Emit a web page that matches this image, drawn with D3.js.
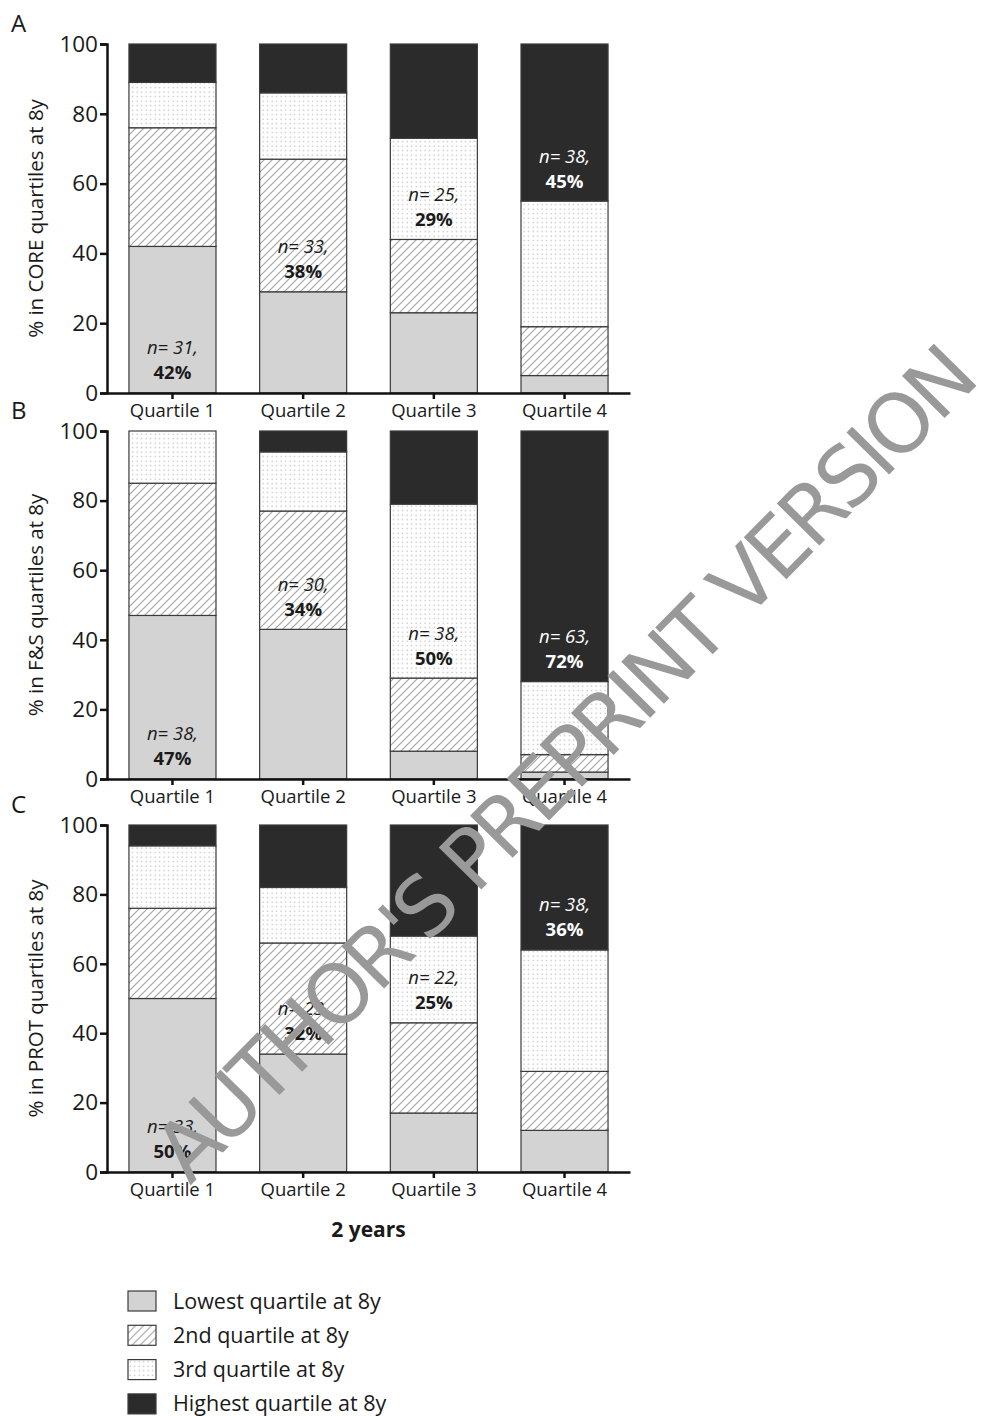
<!DOCTYPE html>
<html>
<head>
<meta charset="utf-8">
<script src="https://cdn.jsdelivr.net/npm/d3@7"></script>
<style>
  body { margin: 0; background: #fff; }
  text { font-family: "Open Sans", "Noto Sans", sans-serif; fill: #1a1a1a; }
  .domain, .tick line { stroke: #111; }
</style>
</head>
<body>
<div class="chart"></div>
<script>
// Stacked bars: quartile at 2 years vs quartile at 8 years

var svgWidth = 999;
var svgHeight = 1416;

var categories = ["Quartile 1", "Quartile 2", "Quartile 3", "Quartile 4"];
var seriesNames = ["Lowest quartile at 8y", "2nd quartile at 8y", "3rd quartile at 8y", "Highest quartile at 8y"];
var yTicks = [0, 20, 40, 60, 80, 100];

// A: CORE, % in each 8y quartile (lowest -> highest)
var coreLowest = [42, 29, 23, 5];
var core2nd = [34, 38, 21, 14];
var core3rd = [13, 19, 29, 36];
var coreHighest = [11, 14, 27, 45];
var coreN = [31, 33, 25, 38];

// B: F&S
var fsLowest = [47, 43, 8, 2];
var fs2nd = [38, 34, 21, 5];
var fs3rd = [15, 17, 50, 21];
var fsHighest = [0, 6, 21, 72];
var fsN = [38, 30, 38, 63];

// C: PROT
var protLowest = [50, 34, 17, 12];
var prot2nd = [26, 32, 26, 17];
var prot3rd = [18, 16, 25, 35];
var protHighest = [6, 18, 32, 36];
var protN = [33, 23, 22, 38];

var panels = [
  { letter: "A", title: "% in CORE quartiles at 8y", series: [coreLowest, core2nd, core3rd, coreHighest], n: coreN, top: 44, bottom: 393 },
  { letter: "B", title: "% in F&S quartiles at 8y", series: [fsLowest, fs2nd, fs3rd, fsHighest], n: fsN, top: 431, bottom: 779 },
  { letter: "C", title: "% in PROT quartiles at 8y", series: [protLowest, prot2nd, prot3rd, protHighest], n: protN, top: 825, bottom: 1172 }
];

var axisLeftX = 107;
var axisRightX = 630;

var svg = d3.select(".chart")
  .append("svg")
  .attr("width", svgWidth)
  .attr("height", svgHeight);

// fill patterns
var defs = svg.append("defs");

var hatch = defs.append("pattern")
  .attr("id", "hatch")
  .attr("patternUnits", "userSpaceOnUse")
  .attr("width", 8)
  .attr("height", 8);
hatch.append("rect").attr("width", 8).attr("height", 8).attr("fill", "#fff");
hatch.append("path")
  .attr("d", "M0,8 L8,0 M-2,2 L2,-2 M6,10 L10,6")
  .attr("stroke", "#a4a4a4")
  .attr("stroke-width", 1.15);

var dots = defs.append("pattern")
  .attr("id", "dots")
  .attr("patternUnits", "userSpaceOnUse")
  .attr("width", 4.5)
  .attr("height", 4.5);
dots.append("rect").attr("width", 4.5).attr("height", 4.5).attr("fill", "#fff");
dots.append("rect").attr("x", 1.5).attr("y", 1.5).attr("width", 1.3).attr("height", 1.3).attr("fill", "#bdbdbd");

var fills = ["#d3d3d3", "url(#hatch)", "url(#dots)", "#2b2b2b"];

var xScale = d3.scaleBand()
  .domain(categories)
  .range([axisLeftX, axisRightX])
  .paddingInner(0.334)
  .paddingOuter(0.168);

function drawPanel(panel) {

  var yScale = d3.scaleLinear()
    .domain([0, 100])
    .range([panel.bottom, panel.top]);

  var g = svg.append("g");

  // build rows for d3.stack
  var rows = categories.map(function (c, i) {
    var row = { cat: c };
    panel.series.forEach(function (s, k) { row["s" + k] = s[i]; });
    return row;
  });

  var stack = d3.stack().keys(["s0", "s1", "s2", "s3"]);
  var layers = stack(rows);

  g.selectAll(".layer")
    .data(layers)
    .enter()
    .append("g")
    .attr("fill", (d, k) => fills[k])
    .selectAll("rect")
    .data(d => d.filter(p => p[1] - p[0] > 0))
    .enter()
    .append("rect")
    .attr("x", d => xScale(d.data.cat))
    .attr("y", d => yScale(d[1]))
    .attr("width", xScale.bandwidth())
    .attr("height", d => yScale(d[0]) - yScale(d[1]))
    .attr("stroke", "#3a3a3a")
    .attr("stroke-width", 1.2);

  // n / % labels in the matching quartile segment
  categories.forEach(function (c, i) {
    var seg = layers[i][i];
    var cx = xScale(c) + xScale.bandwidth() / 2;
    var base = yScale(seg[0]);
    var col = i === 3 ? "#fff" : "#1a1a1a";
    g.append("text")
      .attr("x", cx)
      .attr("y", base - 45)
      .attr("dy", "0.35em")
      .attr("text-anchor", "middle")
      .style("font-style", "italic")
      .style("font-size", "18.5px")
      .style("fill", col)
      .text("n= " + panel.n[i] + ",");
    g.append("text")
      .attr("x", cx)
      .attr("y", base - 20)
      .attr("dy", "0.35em")
      .attr("text-anchor", "middle")
      .style("font-weight", "bold")
      .style("font-size", "18.5px")
      .style("fill", col)
      .text(panel.series[i][i] + "%");
  });

  // axes
  var leftAxis = d3.axisLeft(yScale)
    .tickValues(yTicks)
    .tickSize(7)
    .tickPadding(2);

  var yAxis = g.append("g")
    .attr("transform", `translate(${axisLeftX}, 0)`)
    .call(leftAxis);
  yAxis.selectAll("text").style("font-size", "22.5px");
  yAxis.select(".domain").attr("stroke-width", 2.5);
  yAxis.selectAll(".tick line").attr("stroke-width", 2.5);

  var bottomAxis = d3.axisBottom(xScale)
    .tickSize(6)
    .tickSizeOuter(0)
    .tickPadding(5);

  var xAxis = g.append("g")
    .attr("transform", `translate(0, ${panel.bottom})`)
    .call(bottomAxis);
  xAxis.selectAll("text").style("font-size", "18.5px");
  xAxis.select(".domain").attr("stroke-width", 2.5);
  xAxis.selectAll(".tick line").attr("stroke-width", 2.5);

  // y title
  g.append("text")
    .attr("transform", `translate(43, ${(panel.top + panel.bottom) / 2}) rotate(-90)`)
    .attr("text-anchor", "middle")
    .style("font-size", "20.5px")
    .text(panel.title);

  // panel letter
  g.append("text")
    .attr("x", 11)
    .attr("y", panel.top - 12)
    .style("font-size", "24px")
    .text(panel.letter);
}

panels.forEach(drawPanel);

// x title
svg.append("text")
  .attr("x", (axisLeftX + axisRightX) / 2)
  .attr("y", 1237)
  .attr("text-anchor", "middle")
  .style("font-weight", "bold")
  .style("font-size", "21px")
  .text("2 years");

// legend
var legend = svg.selectAll(".legend")
  .data(seriesNames)
  .enter()
  .append("g")
  .attr("transform", (d, i) => `translate(128, ${1291 + i * 34.3})`);

legend.append("rect")
  .attr("width", 28)
  .attr("height", 20)
  .attr("fill", (d, i) => fills[i])
  .attr("stroke", "#3a3a3a")
  .attr("stroke-width", 1.2);

legend.append("text")
  .attr("x", 45)
  .attr("y", 10)
  .attr("dy", "0.35em")
  .style("font-size", "21.5px")
  .text(d => d);

// watermark
svg.append("text")
  .attr("transform", "translate(190, 1186) rotate(-45.5)")
  .attr("textLength", 1130)
  .attr("lengthAdjust", "spacing")
  .style("font-family", "'DejaVu Sans', sans-serif")
  .style("font-size", "82px")
  .style("fill", "#999")
  .text("AUTHOR'S PREPRINT VERSION");
</script>
</body>
</html>
